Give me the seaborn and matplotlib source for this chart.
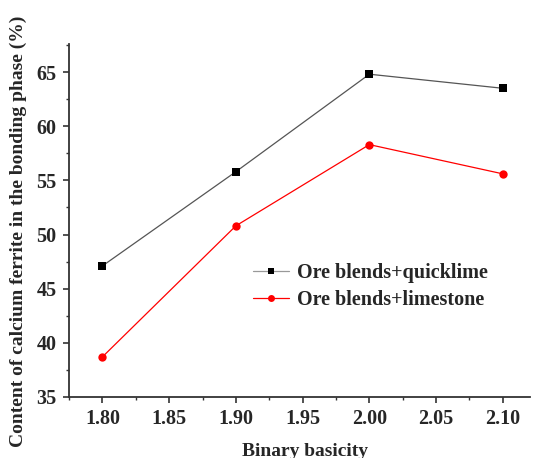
import numpy as np
import pandas as pd
import seaborn as sns
import matplotlib
matplotlib.use("Agg")
import matplotlib.pyplot as plt
from matplotlib.ticker import MultipleLocator

# data
basicity = [1.80, 1.90, 2.00, 2.10]
quicklime = [47.1, 55.8, 64.8, 63.5]
limestone = [38.7, 50.8, 58.3, 55.6]
series_names = ["Ore blends+quicklime", "Ore blends+limestone"]

sns.set_theme(style="ticks")
plt.rcParams["font.family"] = ["Liberation Serif", "DejaVu Serif"]
plt.rcParams["font.weight"] = "bold"

df = pd.DataFrame({
    "Binary basicity": basicity * 2,
    "value": quicklime + limestone,
    "series": [series_names[0]] * 4 + [series_names[1]] * 4,
})

fig = plt.figure(figsize=(5.33, 4.58), dpi=100)
ax = fig.add_axes([0.1295, 0.1332, 0.864, 0.771])

sns.lineplot(
    data=df, x="Binary basicity", y="value", hue="series", style="series",
    palette={series_names[0]: "#555555", series_names[1]: "red"},
    markers={series_names[0]: "s", series_names[1]: "o"},
    dashes=False, linewidth=0.9, markersize=6, markeredgewidth=0,
    ax=ax,
)
# marker faces: black squares, red circles
ax.lines[0].set_markerfacecolor("black")
ax.lines[1].set_markerfacecolor("red")

ax.set_xlim(1.775, 2.12)
ax.set_ylim(35, 67.6)
ax.xaxis.set_major_locator(MultipleLocator(0.05))
ax.xaxis.set_minor_locator(MultipleLocator(0.025))
ax.yaxis.set_major_locator(MultipleLocator(5))
ax.yaxis.set_minor_locator(MultipleLocator(2.5))
ax.xaxis.set_major_formatter(matplotlib.ticker.FormatStrFormatter("%.2f"))

ax.tick_params(axis="both", which="major", direction="out", length=4, width=1.2,
               labelsize=14.5, color="#333333", pad=5)
ax.tick_params(axis="both", which="minor", direction="out", length=2.5, width=1.0,
               color="#333333")
for lab in ax.get_xticklabels() + ax.get_yticklabels():
    lab.set_fontweight("bold")

sns.despine(ax=ax)
for sp in ["left", "bottom"]:
    ax.spines[sp].set_linewidth(1.3)
    ax.spines[sp].set_color("#333333")

ax.set_xlabel("Binary basicity", fontsize=14, fontweight="bold")
ax.set_ylabel("Content of calcium ferrite in the bonding phase (%)", fontsize=14,
              fontweight="bold")
ax.xaxis.set_label_coords(0.513, -0.131)
ax.yaxis.set_label_coords(-0.092, 0.47)

leg = ax.legend(
    loc="upper left", bbox_to_anchor=(0.36, 0.43), frameon=False,
    handlelength=1.8, handletextpad=0.4, labelspacing=0.35,
    prop={"weight": "bold", "size": 14.5},
)
for h in leg.legend_handles:
    h.set_markersize(5)
leg.legend_handles[0].set_color("#999999")
leg.legend_handles[0].set_markerfacecolor("black")
leg.legend_handles[0].set_markeredgecolor("black")

fig.savefig("out.png", dpi=100)
